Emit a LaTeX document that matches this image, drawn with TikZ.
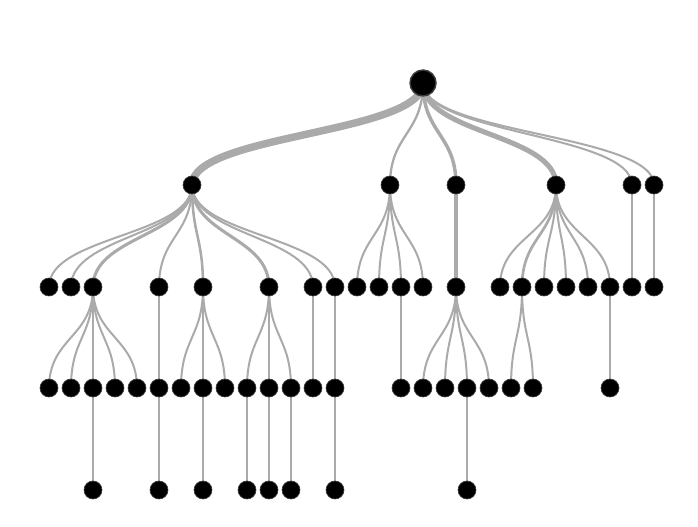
\documentclass[tikz,border=0pt]{standalone}
\usetikzlibrary{calc}
\pgfdeclarelayer{bg}
\pgfsetlayers{bg,main}
\definecolor{edgecol}{RGB}{170,170,170}
\definecolor{rimcol}{RGB}{60,60,60}
\tikzset{
  dot/.style={circle,fill=black,draw=rimcol,line width=0.5pt,inner sep=0pt,minimum size=13.5pt},
  rootdot/.style={circle,fill=black,draw=rimcol,line width=1.1pt,inner sep=0pt,minimum size=19.5pt},
  edge/.style={draw=edgecol,line width=1.5pt}
}
\newcommand\tlink[3][]{%
  \path (#2.center) -- (#3.center) coordinate[pos=.5] (mm);
  \draw[edge,#1] (#2.center) .. controls (#2.center |- mm) and (#3.center |- mm) .. (#3.center);}
\begin{document}
\begin{tikzpicture}[x=0.75pt,y=-0.75pt]
\useasboundingbox (0,0) rectangle (698,527);
\node[rootdot] (r) at (423,83) {};
\foreach \x in {192,390,456,556,632,654} \node[dot] (a\x) at (\x,185) {};
\foreach \x in {49,71,93,159,203,269,313,335,357,379,401,423,456,500,522,544,566,588,610,632,654} \node[dot] (b\x) at (\x,287) {};
\foreach \x in {49,71,93,115,137,159,181,203,225,247,269,291,313,335,401,423,445,467,489,511,533,610} \node[dot] (c\x) at (\x,388) {};
\foreach \x in {93,159,203,247,269,291,335,467} \node[dot] (d\x) at (\x,490) {};
\begin{pgfonlayer}{bg}
\tlink[line width=5.6pt]{r}{a192}
\tlink[line width=1.7pt]{r}{a390}
\tlink[line width=2.6pt]{r}{a456}
\tlink[line width=3.8pt]{r}{a556}
\tlink{r}{a632}
\tlink{r}{a654}
\tlink{a192}{b49}
\tlink{a192}{b71}
\tlink[line width=2.3pt]{a192}{b93}
\tlink{a192}{b159}
\tlink[line width=1.9pt]{a192}{b203}
\tlink[line width=2.3pt]{a192}{b269}
\tlink{a192}{b313}
\tlink{a192}{b335}
\foreach \x in {357,379,401,423} {\tlink{a390}{b\x}}
\tlink[line width=2.6pt]{a456}{b456}
\foreach \x in {500,544,566,588,610} {\tlink{a556}{b\x}}
\tlink[line width=2pt]{a556}{b522}
\tlink{a632}{b632}
\tlink{a654}{b654}
\foreach \x in {49,71,93,115,137} {\tlink{b93}{c\x}}
\tlink{b159}{c159}
\foreach \x in {181,203,225} {\tlink{b203}{c\x}}
\foreach \x in {247,269,291} {\tlink{b269}{c\x}}
\tlink{b313}{c313}
\tlink{b335}{c335}
\tlink{b401}{c401}
\foreach \x in {423,445,467,489} {\tlink{b456}{c\x}}
\foreach \x in {511,533} {\tlink{b522}{c\x}}
\tlink{b610}{c610}
\foreach \x in {93,159,203,247,269,291,335,467} {\tlink{c\x}{d\x}}
\end{pgfonlayer}
\end{tikzpicture}
\end{document}
